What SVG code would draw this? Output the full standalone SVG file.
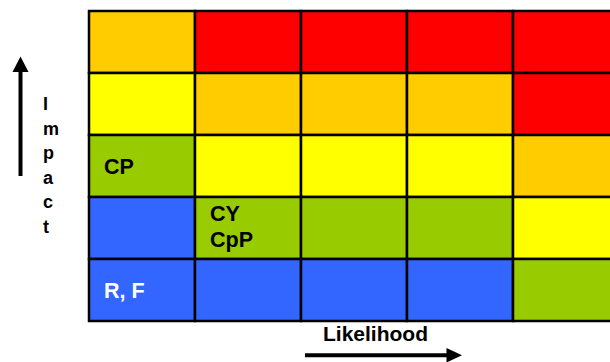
<svg xmlns="http://www.w3.org/2000/svg" width="610" height="362" viewBox="0 0 610 362">
<defs>
<style>
.c{stroke:#000;stroke-width:2.5}
.o{fill:#FFCC00}.r{fill:#FF0000}.y{fill:#FFFF00}.g{fill:#99CC00}.b{fill:#3366FF}
text{font-family:"Liberation Sans",Arial,sans-serif;font-weight:bold}
.t{font-size:21.5px;fill:#000}
.w{font-size:21.5px;fill:#fff}
.ax{font-size:18px;fill:#000}
</style>
</defs>
<rect width="610" height="362" fill="#fff"/>
<g id="row0">
<g id="c00"><rect class="c o" x="89" y="11" width="106" height="62"/></g>
<g id="c01"><rect class="c r" x="195" y="11" width="106" height="62"/></g>
<g id="c02"><rect class="c r" x="301" y="11" width="106" height="62"/></g>
<g id="c03"><rect class="c r" x="407" y="11" width="106" height="62"/></g>
<g id="c04"><rect class="c r" x="513" y="11" width="106" height="62"/></g>
</g>
<g id="row1">
<g id="c10"><rect class="c y" x="89" y="73" width="106" height="62"/></g>
<g id="c11"><rect class="c o" x="195" y="73" width="106" height="62"/></g>
<g id="c12"><rect class="c o" x="301" y="73" width="106" height="62"/></g>
<g id="c13"><rect class="c o" x="407" y="73" width="106" height="62"/></g>
<g id="c14"><rect class="c r" x="513" y="73" width="106" height="62"/></g>
</g>
<g id="row2">
<g id="c20"><rect class="c g" x="89" y="135" width="106" height="62"/><text class="t" x="104" y="174">CP</text></g>
<g id="c21"><rect class="c y" x="195" y="135" width="106" height="62"/></g>
<g id="c22"><rect class="c y" x="301" y="135" width="106" height="62"/></g>
<g id="c23"><rect class="c y" x="407" y="135" width="106" height="62"/></g>
<g id="c24"><rect class="c o" x="513" y="135" width="106" height="62"/></g>
</g>
<g id="row3">
<g id="c30"><rect class="c b" x="89" y="197" width="106" height="62"/></g>
<g id="c31"><rect class="c g" x="195" y="197" width="106" height="62"/><text class="t" x="210" y="221">CY</text><text class="t" x="210" y="247">CpP</text></g>
<g id="c32"><rect class="c g" x="301" y="197" width="106" height="62"/></g>
<g id="c33"><rect class="c g" x="407" y="197" width="106" height="62"/></g>
<g id="c34"><rect class="c y" x="513" y="197" width="106" height="62"/></g>
</g>
<g id="row4">
<g id="c40"><rect class="c b" x="89" y="259" width="106" height="62"/><text class="w" x="104" y="298">R, F</text></g>
<g id="c41"><rect class="c b" x="195" y="259" width="106" height="62"/></g>
<g id="c42"><rect class="c b" x="301" y="259" width="106" height="62"/></g>
<g id="c43"><rect class="c b" x="407" y="259" width="106" height="62"/></g>
<g id="c44"><rect class="c g" x="513" y="259" width="106" height="62"/></g>
</g>
<g id="impact-label">
<text class="ax" x="43" y="110">I</text>
<text class="ax" x="43" y="134.5">m</text>
<text class="ax" x="43" y="159">p</text>
<text class="ax" x="43" y="183.5">a</text>
<text class="ax" x="43" y="208">c</text>
<text class="ax" x="43" y="232.5">t</text>
</g>
<g id="likelihood-label"><text class="ax" x="323" y="341" style="font-size:21px">Likelihood</text></g>
<g id="connectors">
<line x1="20.5" y1="176" x2="20.5" y2="70" stroke="#000" stroke-width="4"/>
<polygon points="20.5,56.5 12.5,72 28.5,72" fill="#000"/>
<line x1="305" y1="355.3" x2="448" y2="355.3" stroke="#000" stroke-width="4"/>
<polygon points="462,355.3 446.5,348 446.5,362.5" fill="#000"/>
</g>
</svg>
